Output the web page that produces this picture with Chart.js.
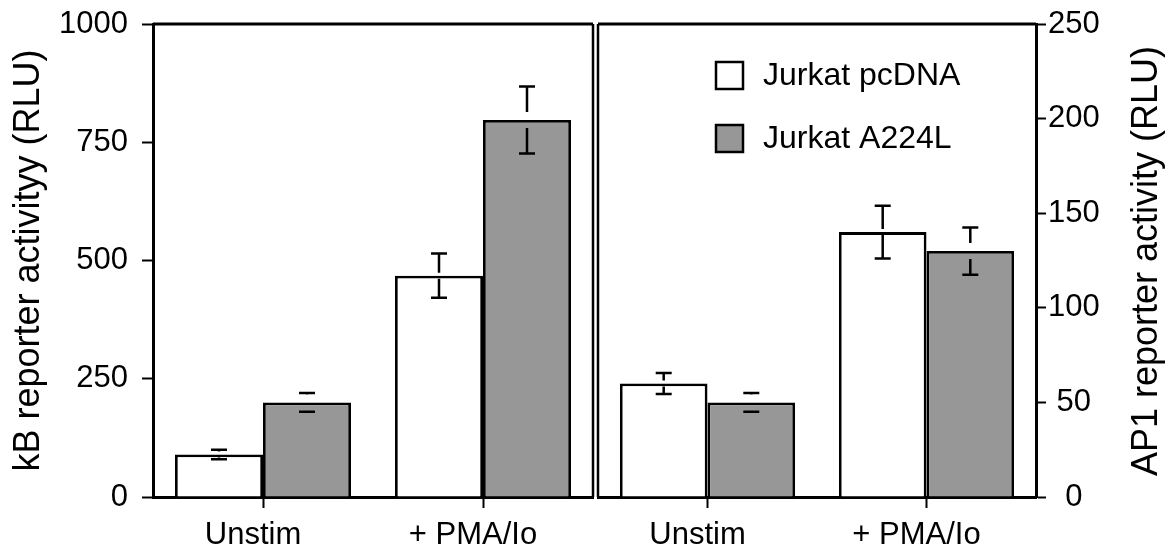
<!DOCTYPE html>
<html>
<head>
<meta charset="utf-8">
<script src="https://cdn.jsdelivr.net/npm/chart.js@4.4.1/dist/chart.umd.min.js"></script>
<style>
  html, body { margin: 0; padding: 0; background: #fff; }
  #wrap { position: relative; width: 1168px; height: 549px; }
  #leftBox { position: absolute; left: 0; top: 0; width: 600px; height: 549px; }
  #rightBox { position: absolute; left: 596px; top: 0; width: 572px; height: 549px; }
</style>
</head>
<body>
<div id="wrap">
  <div id="leftBox"><canvas id="kbChart"></canvas></div>
  <div id="rightBox"><canvas id="ap1Chart"></canvas></div>
</div>
<script>
// data
const categories = ['Unstim', '+ PMA/Io'];
const seriesNames = ['Jurkat pcDNA', 'Jurkat A224L'];

const kbPcdna = [90, 468];
const kbPcdnaErr = [10, 47];
const kbA224l = [200, 797];
const kbA224lErr = [20, 71];

const ap1Pcdna = [60, 140];
const ap1PcdnaErr = [5.5, 14];
const ap1A224l = [50, 130];
const ap1A224lErr = [5, 12.5];

const kbTicks = [0, 250, 500, 750, 1000];
const ap1Ticks = [0, 50, 100, 150, 200, 250];

const FONT = "'Liberation Sans', Arial, Helvetica, sans-serif";
const GRAY = '#979797';

// error bars: caps plus a stem that breaks around the bar top
const errorBars = {
  id: 'errorBars',
  afterDatasetsDraw(chart) {
    const ctx = chart.ctx;
    const y = chart.scales.y;
    chart.data.datasets.forEach((ds, i) => {
      chart.getDatasetMeta(i).data.forEach((bar, j) => {
        const v = ds.data[j], e = ds.errors[j];
        const hi = y.getPixelForValue(v + e);
        const lo = y.getPixelForValue(v - e);
        const gap = ds.errGap;
        ctx.save();
        ctx.strokeStyle = '#000';
        ctx.lineWidth = 2.5;
        ctx.beginPath();
        ctx.moveTo(bar.x - 8, hi); ctx.lineTo(bar.x + 8, hi);
        ctx.moveTo(bar.x - 8, lo); ctx.lineTo(bar.x + 8, lo);
        if (bar.y - gap > hi) { ctx.moveTo(bar.x, hi); ctx.lineTo(bar.x, bar.y - gap); }
        if (bar.y + gap < lo) { ctx.moveTo(bar.x, bar.y + gap); ctx.lineTo(bar.x, lo); }
        ctx.stroke();
        ctx.restore();
      });
    });
  }
};

// top line and the open side of each panel
const panelFrame = {
  id: 'panelFrame',
  afterDraw(chart, args, opts) {
    const { ctx, chartArea: a } = chart;
    ctx.save();
    ctx.strokeStyle = '#000';
    ctx.lineWidth = 3;
    ctx.beginPath();
    ctx.moveTo(a.left, a.top); ctx.lineTo(a.right, a.top);
    ctx.stroke();
    ctx.lineWidth = 2.5;
    ctx.beginPath();
    const x = opts.side === 'right' ? a.right : a.left;
    ctx.moveTo(x, a.top); ctx.lineTo(x, a.bottom);
    ctx.stroke();
    ctx.restore();
  }
};

// legend boxes inside the right panel
const boxLegend = {
  id: 'boxLegend',
  afterDraw(chart, args, opts) {
    const ctx = chart.ctx;
    ctx.save();
    ctx.font = '32px ' + FONT;
    ctx.textBaseline = 'middle';
    chart.data.datasets.forEach((ds, i) => {
      const y = opts.y + i * opts.step;
      ctx.fillStyle = ds.backgroundColor;
      ctx.fillRect(opts.x, y - 13, 27, 27);
      ctx.lineWidth = 2.5;
      ctx.strokeStyle = '#000';
      ctx.strokeRect(opts.x, y - 13, 27, 27);
      ctx.fillStyle = '#000';
      ctx.fillText(ds.label, opts.x + 47, y + 1);
    });
    ctx.restore();
  }
};

// right axis title reads bottom-to-top like the left one
const rightTitle = {
  id: 'rightTitle',
  afterDraw(chart, args, opts) {
    const ctx = chart.ctx;
    ctx.save();
    ctx.translate(opts.x, opts.y);
    ctx.rotate(-Math.PI / 2);
    ctx.font = '36px ' + FONT;
    ctx.fillStyle = '#000';
    ctx.textAlign = 'center';
    ctx.textBaseline = 'middle';
    ctx.fillText(opts.text, 0, 0);
    ctx.restore();
  }
};

function barSet(label, data, errors, color, gap) {
  return {
    label: label,
    data: data,
    errors: errors,
    errGap: gap,
    backgroundColor: color,
    borderColor: '#000',
    borderWidth: 2.8,
    categoryPercentage: 0.8,
    barPercentage: 1.0
  };
}

function xAxis() {
  return {
    offset: true,
    grid: { offset: false, drawOnChartArea: false, drawTicks: true, tickLength: 11, tickWidth: 2, color: '#000' },
    border: { display: true, color: '#000', width: 3 },
    ticks: { color: '#000', font: { family: FONT, size: 31 }, padding: 9, labelOffset: -10, maxRotation: 0 },
    afterFit: s => { s.height = 52; s.paddingLeft = 0; s.paddingRight = 0; }
  };
}

// no tick padding allowance at the ends, so the plot area stays where it is
function trimPad(s, width) {
  s.width = width;
  s.paddingTop = 0;
  s.paddingBottom = 0;
}

new Chart(document.getElementById('kbChart'), {
  type: 'bar',
  data: {
    labels: categories,
    datasets: [
      barSet(seriesNames[0], kbPcdna, kbPcdnaErr, '#ffffff', 3),
      barSet(seriesNames[1], kbA224l, kbA224lErr, GRAY, 8)
    ]
  },
  options: {
    responsive: true,
    maintainAspectRatio: false,
    animation: false,
    layout: { padding: { top: 24, right: 7, left: 0, bottom: 0 } },
    plugins: {
      legend: { display: false },
      tooltip: { enabled: false },
      panelFrame: { side: 'right' }
    },
    scales: {
      x: xAxis(),
      y: {
        min: kbTicks[0],
        max: kbTicks[kbTicks.length - 1],
        afterBuildTicks: s => { s.ticks = kbTicks.map(v => ({ value: v })); },
        grid: { drawOnChartArea: false, tickLength: 11, tickWidth: 2, color: '#000' },
        border: { display: true, color: '#000', width: 3 },
        ticks: { color: '#000', font: { family: FONT, size: 31 }, padding: 14, callback: v => String(v) },
        title: {
          display: true,
          text: 'kB reporter activityy (RLU)',
          color: '#000',
          font: { family: FONT, size: 36 },
          padding: { top: 7, bottom: 0 }
        },
        afterFit: s => trimPad(s, 153)
      }
    }
  },
  plugins: [errorBars, panelFrame]
});

new Chart(document.getElementById('ap1Chart'), {
  type: 'bar',
  data: {
    labels: categories,
    datasets: [
      barSet(seriesNames[0], ap1Pcdna, ap1PcdnaErr, '#ffffff', 3),
      barSet(seriesNames[1], ap1A224l, ap1A224lErr, GRAY, 8)
    ]
  },
  options: {
    responsive: true,
    maintainAspectRatio: false,
    animation: false,
    layout: { padding: { top: 24, right: 0, left: 2, bottom: 0 } },
    plugins: {
      legend: { display: false },
      tooltip: { enabled: false },
      panelFrame: { side: 'left' },
      boxLegend: { x: 120, y: 75, step: 63 },
      rightTitle: { x: 551, y: 261, text: 'AP1 reporter activity (RLU)' }
    },
    scales: {
      x: xAxis(),
      y: {
        position: 'right',
        min: ap1Ticks[0],
        max: ap1Ticks[ap1Ticks.length - 1],
        afterBuildTicks: s => { s.ticks = ap1Ticks.map(v => ({ value: v })); },
        grid: { drawOnChartArea: false, tickLength: 10, tickWidth: 2, color: '#000' },
        border: { display: true, color: '#000', width: 3 },
        ticks: { color: '#000', font: { family: FONT, size: 31 }, padding: 2, crossAlign: 'center', callback: v => String(v) },
        afterFit: s => trimPad(s, 132)
      }
    }
  },
  plugins: [errorBars, panelFrame, boxLegend, rightTitle]
});
</script>
</body>
</html>
